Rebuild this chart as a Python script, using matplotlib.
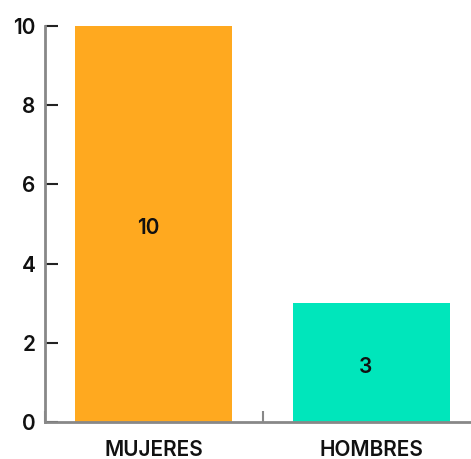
import matplotlib
matplotlib.use("Agg")
import matplotlib.pyplot as plt

# Datos
categorias = ["MUJERES", "HOMBRES"]
valores = [10, 3]
colores = ["#FFA91F", "#00E6BB"]

plt.rcParams['font.family'] = ['Inter', 'DejaVu Sans']
plt.rcParams['font.weight'] = 'semibold'

fig = plt.figure(figsize=(4.71, 4.59), dpi=100)
ax = fig.add_axes([45 / 471, 37 / 459, 435 / 471, 396 / 459])

x = range(len(categorias))
barras = ax.bar(x, valores, width=0.72, color=colores, zorder=2)

# Etiquetas con el valor en el centro de cada barra
for b, v in zip(barras, valores):
    ax.annotate(str(v), (b.get_x() + b.get_width() / 2, v / 2),
                xytext=(-4, -3), textcoords="offset points",
                ha="center", va="center", fontsize=15, color="#111111")

ax.set_xlim(-0.5, 1.5)
ax.set_ylim(0, 10)
ax.set_yticks([0, 2, 4, 6, 8, 10])

# Marcas del eje x entre categorías, etiquetas centradas
ax.set_xticks([-0.5, 0.5])
ax.set_xticklabels([])
ax.set_xticks([0, 1], minor=True)
ax.set_xticklabels(categorias, minor=True)
ax.tick_params(axis="x", which="major", direction="in", length=8,
               width=1.5, color="#888888")
ax.tick_params(axis="x", which="minor", length=0, pad=13, labelsize=15,
               labelcolor="#111111")
ax.tick_params(axis="y", direction="in", length=9, width=1.5,
               color="#222222", pad=7, labelsize=15, labelcolor="#111111")
# la marca superior hace esquina con el eje
ax.yaxis.get_major_ticks()[-1].tick1line.set_color("#888888")

for lado in ["top", "right"]:
    ax.spines[lado].set_visible(False)
for lado in ["left", "bottom"]:
    ax.spines[lado].set_color("#888888")
    ax.spines[lado].set_linewidth(2)

fig.savefig("out.png", dpi=100)
